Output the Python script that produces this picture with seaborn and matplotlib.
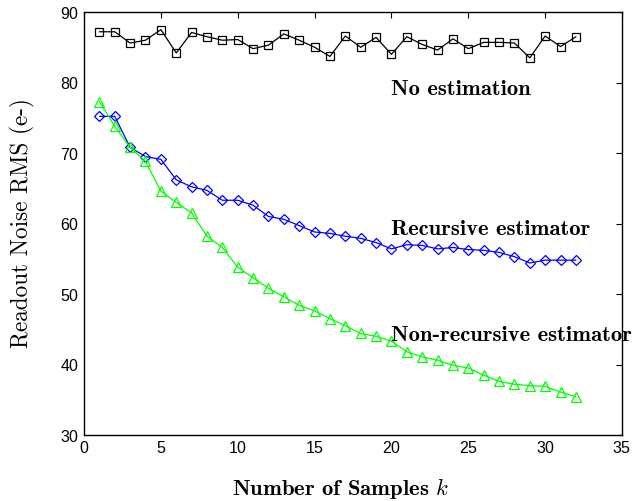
import numpy as np
import pandas as pd
import seaborn as sns
import matplotlib
matplotlib.use('Agg')
import matplotlib.pyplot as plt

# values
k = list(range(1, 33))
no_est = [87.2, 87.2, 85.6, 86.0, 87.5, 84.2, 87.1, 86.5, 86.0, 86.1, 84.8, 85.3, 86.9, 86.0, 85.0, 83.7,
          86.6, 85.0, 86.4, 84.0, 86.5, 85.4, 84.6, 86.2, 84.8, 85.7, 85.7, 85.6, 83.5, 86.6, 85.1, 86.5]
recursive = [75.2, 75.2, 70.8, 69.5, 69.1, 66.2, 65.2, 64.7, 63.3, 63.3, 62.6, 61.0, 60.6, 59.7, 58.8, 58.6,
             58.2, 57.9, 57.3, 56.4, 57.0, 56.9, 56.4, 56.6, 56.3, 56.2, 55.9, 55.3, 54.4, 54.8, 54.8, 54.8]
non_recursive = [77.3, 73.8, 70.8, 68.8, 64.6, 63.0, 61.5, 58.2, 56.6, 53.8, 52.3, 50.8, 49.6, 48.4, 47.6, 46.5,
                 45.5, 44.4, 44.0, 43.3, 41.8, 41.1, 40.6, 39.9, 39.5, 38.5, 37.6, 37.2, 37.0, 36.9, 36.1, 35.4]
labels = ['No estimation', 'Recursive estimator', 'Non-recursive estimator']
label_x = 20.0
label_y = [79.0, 59.1, 44.1]

sns.set_style('white')
plt.rcParams['font.family'] = ['Liberation Sans', 'DejaVu Sans']
plt.rcParams['mathtext.fontset'] = 'cm'
plt.rcParams['axes.formatter.use_mathtext'] = True
plt.rcParams['text.color'] = 'black'
plt.rcParams['axes.labelcolor'] = 'black'

fig = plt.figure(figsize=(6.33, 5.01), dpi=100)
ax = fig.add_axes([0.1327, 0.1317, 0.850, 0.8443])

df = pd.DataFrame({'k': k, 'No estimation': no_est, 'Recursive estimator': recursive,
                   'Non-recursive estimator': non_recursive})
styles = [('No estimation', 'black', 's', 6), ('Recursive estimator', 'blue', 'D', 5.5),
          ('Non-recursive estimator', '#00ff00', '^', 6.5)]
for name, col, mk, ms in styles:
    sns.lineplot(data=df, x='k', y=name, ax=ax, color=col, marker=mk, markersize=ms,
                 markerfacecolor='none', markeredgecolor=col, markeredgewidth=0.9,
                 linewidth=0.9, legend=False)

for txt, yy in zip(labels, label_y):
    ax.text(label_x, yy, txt, family='cmb10', fontsize=16.3, va='center', ha='left',
            color='black', clip_on=False)

ax.set_xlim(0, 35)
ax.set_ylim(30, 90)
ax.set_xticks(range(0, 36, 5))
ax.set_yticks(range(30, 91, 10))
ax.tick_params(direction='in', top=True, right=True, length=4, width=0.8, labelsize=11.5, colors='black')
for s in ax.spines.values():
    s.set_color('black')
    s.set_linewidth(1.0)
ax.set_xlabel(r'Number of Samples $k$', family='cmb10', fontsize=16.3)
ax.set_ylabel('Readout Noise RMS (e-)', family='cmr10', fontsize=16.7)
ax.xaxis.set_label_coords(0.476, -0.097)
ax.yaxis.set_label_coords(-0.091, 0.501)

fig.savefig('out.png', dpi=100)
